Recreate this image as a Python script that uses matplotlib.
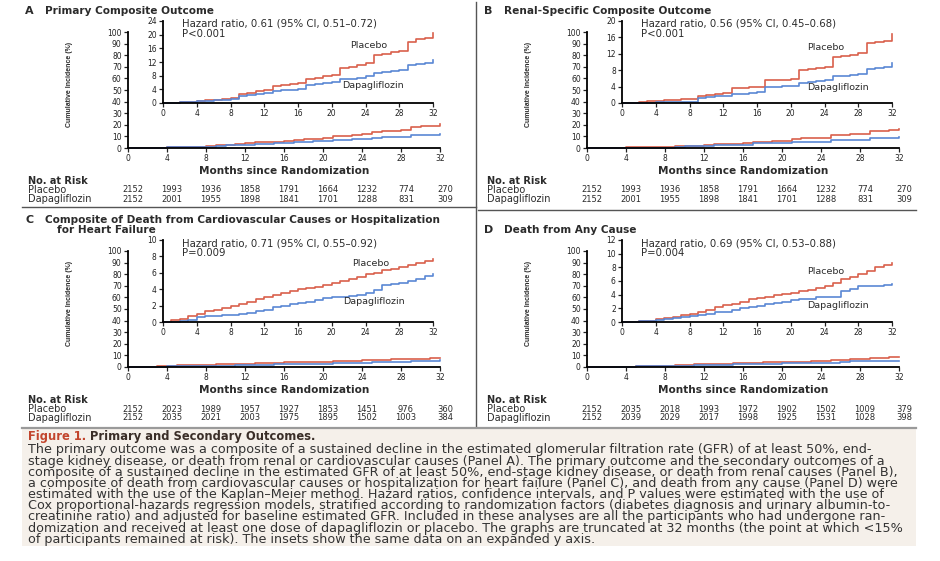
import matplotlib
matplotlib.use("Agg")
import matplotlib.pyplot as plt
from matplotlib.lines import Line2D
from matplotlib.patches import Rectangle

W, H = 940, 561

# months 0..32
months = list(range(0, 33))

a_placebo = [0, 0.1, 0.2, 0.4, 0.6, 0.8, 1.0, 1.2, 1.6, 2.5, 3.0, 3.4, 3.9, 4.9, 5.2, 5.5, 5.9,
             7.0, 7.4, 7.8, 8.3, 10.2, 10.6, 11.0, 11.8, 14.0, 14.4, 14.8, 15.2, 17.8, 18.6, 19.0, 20.5]
a_dapa = [0, 0.1, 0.2, 0.3, 0.5, 0.6, 0.8, 1.0, 1.2, 2.0, 2.3, 2.6, 2.9, 3.5, 3.7, 3.9, 4.2,
          5.2, 5.5, 5.8, 6.1, 6.9, 7.1, 7.4, 7.9, 8.8, 9.1, 9.4, 9.8, 11.0, 11.3, 11.6, 12.5]

b_placebo = [0, 0.1, 0.2, 0.4, 0.6, 0.7, 0.8, 0.9, 1.0, 1.7, 1.9, 2.1, 2.4, 3.6, 3.7, 3.8, 4.0,
             5.5, 5.6, 5.7, 5.9, 8.0, 8.3, 8.6, 8.9, 11.3, 11.5, 11.8, 12.1, 14.7, 14.9, 15.2, 16.8]
b_dapa = [0, 0.0, 0.1, 0.1, 0.2, 0.2, 0.3, 0.3, 0.3, 1.2, 1.4, 1.6, 1.8, 2.2, 2.3, 2.5, 2.6,
          3.9, 4.0, 4.1, 4.2, 5.0, 5.2, 5.3, 5.5, 6.6, 6.7, 6.8, 7.0, 8.4, 8.6, 8.8, 9.7]

c_placebo = [0, 0.2, 0.4, 0.7, 1.0, 1.3, 1.5, 1.7, 2.0, 2.2, 2.5, 2.8, 3.0, 3.3, 3.5, 3.8, 4.0,
             4.2, 4.3, 4.5, 4.7, 5.0, 5.3, 5.5, 5.8, 6.0, 6.3, 6.5, 6.7, 7.0, 7.2, 7.4, 7.7]
c_dapa = [0, 0.0, 0.1, 0.3, 0.6, 0.7, 0.7, 0.8, 0.8, 1.0, 1.1, 1.3, 1.5, 1.8, 2.0, 2.2, 2.3,
          2.5, 2.7, 2.9, 3.0, 3.1, 3.2, 3.3, 3.5, 3.9, 4.5, 4.6, 4.7, 5.0, 5.3, 5.6, 5.8]

d_placebo = [0, 0.0, 0.1, 0.2, 0.4, 0.6, 0.8, 1.0, 1.2, 1.5, 1.8, 2.2, 2.5, 2.7, 3.0, 3.3, 3.5,
             3.7, 3.9, 4.1, 4.3, 4.5, 4.7, 5.0, 5.2, 5.7, 6.3, 6.6, 7.0, 7.5, 8.0, 8.4, 8.6]
d_dapa = [0, 0.0, 0.1, 0.2, 0.3, 0.5, 0.6, 0.8, 0.9, 1.0, 1.2, 1.4, 1.5, 1.8, 2.0, 2.2, 2.4,
          2.6, 2.8, 3.0, 3.2, 3.3, 3.4, 3.6, 3.7, 3.7, 4.6, 4.9, 5.2, 5.2, 5.3, 5.4, 5.5]

risk_ticks = [0, 4, 8, 12, 16, 20, 24, 28, 32]
a_risk_placebo = [2152, 1993, 1936, 1858, 1791, 1664, 1232, 774, 270]
a_risk_dapa = [2152, 2001, 1955, 1898, 1841, 1701, 1288, 831, 309]
c_risk_placebo = [2152, 2023, 1989, 1957, 1927, 1853, 1451, 976, 360]
c_risk_dapa = [2152, 2035, 2021, 2003, 1975, 1895, 1502, 1003, 384]
d_risk_placebo = [2152, 2035, 2018, 1993, 1972, 1902, 1502, 1009, 379]
d_risk_dapa = [2152, 2039, 2029, 2017, 1998, 1925, 1531, 1028, 398]

panels = [
    dict(letter="A", title=["Primary Composite Outcome"], origin=(128, 148),
         placebo=a_placebo, dapa=a_dapa, inset_max=24, inset_step=4,
         hr="Hazard ratio, 0.61 (95% CI, 0.51\u20130.72)", p="P<0.001",
         risk=(a_risk_placebo, a_risk_dapa), plab=(222, -102), dlab=(214, -63)),
    dict(letter="B", title=["Renal-Specific Composite Outcome"], origin=(587, 148),
         placebo=b_placebo, dapa=b_dapa, inset_max=20, inset_step=4,
         hr="Hazard ratio, 0.56 (95% CI, 0.45\u20130.68)", p="P<0.001",
         risk=(a_risk_placebo, a_risk_dapa), plab=(220, -100), dlab=(220, -60)),
    dict(letter="C", title=["Composite of Death from Cardiovascular Causes or Hospitalization",
                            "for Heart Failure"], origin=(128, 367),
         placebo=c_placebo, dapa=c_dapa, inset_max=10, inset_step=2,
         hr="Hazard ratio, 0.71 (95% CI, 0.55\u20130.92)", p="P=0.009",
         risk=(c_risk_placebo, c_risk_dapa), plab=(224, -104), dlab=(215, -66)),
    dict(letter="D", title=["Death from Any Cause"], origin=(587, 367),
         placebo=d_placebo, dapa=d_dapa, inset_max=12, inset_step=2,
         hr="Hazard ratio, 0.69 (95% CI, 0.53\u20130.88)", p="P=0.004",
         risk=(d_risk_placebo, d_risk_dapa), plab=(220, -95), dlab=(220, -62)),
]

caption = [
    "The primary outcome was a composite of a sustained decline in the estimated glomerular filtration rate (GFR) of at least 50%, end-",
    "stage kidney disease, or death from renal or cardiovascular causes (Panel A). The primary outcome and the secondary outcomes of a",
    "composite of a sustained decline in the estimated GFR of at least 50%, end-stage kidney disease, or death from renal causes (Panel B),",
    "a composite of death from cardiovascular causes or hospitalization for heart failure (Panel C), and death from any cause (Panel D) were",
    "estimated with the use of the Kaplan\u2013Meier method. Hazard ratios, confidence intervals, and P values were estimated with the use of",
    "Cox proportional-hazards regression models, stratified according to randomization factors (diabetes diagnosis and urinary albumin-to-",
    "creatinine ratio) and adjusted for baseline estimated GFR. Included in these analyses are all the participants who had undergone ran-",
    "domization and received at least one dose of dapagliflozin or placebo. The graphs are truncated at 32 months (the point at which <15%",
    "of participants remained at risk). The insets show the same data on an expanded y axis.",
]

RED = "#d9604c"
BLUE = "#5a87d4"
TXT = "#2b2b2b"

plt.rcParams["font.family"] = "DejaVu Sans"

fig = plt.figure(figsize=(W / 100, H / 100), dpi=100)
fig.patch.set_facecolor("white")


def box(x0, y0, x1, y1):
    return [x0 / W, 1 - y1 / H, (x1 - x0) / W, (y1 - y0) / H]


def ftext(x, y, s, **kw):
    return fig.text(x / W, 1 - y / H, s, **kw)


def hline(x0, x1, y, **kw):
    fig.add_artist(Line2D([x0 / W, x1 / W], [1 - y / H, 1 - y / H], transform=fig.transFigure, **kw))


def vline(x, y0, y1, **kw):
    fig.add_artist(Line2D([x / W, x / W], [1 - y0 / H, 1 - y1 / H], transform=fig.transFigure, **kw))


def style(ax, fs):
    for s in ["top", "right"]:
        ax.spines[s].set_visible(False)
    for s in ["left", "bottom"]:
        ax.spines[s].set_linewidth(1.3)
    ax.tick_params(direction="out", length=3, width=0.9, labelsize=fs, pad=1.5, colors="#222222")
    ax.set_facecolor("none")


for p in panels:
    ox, oy = p["origin"]
    # main axes
    ax = fig.add_axes(box(ox, oy - 116, ox + 312, oy))
    ax.step(months, p["placebo"], where="post", color=RED, lw=1.2, clip_on=False)
    ax.step(months, p["dapa"], where="post", color=BLUE, lw=1.2, clip_on=False)
    ax.set_xlim(0, 32)
    ax.set_ylim(0, 100)
    ax.set_xticks(risk_ticks)
    ax.set_yticks(range(0, 101, 10))
    style(ax, 5.5)
    ax.set_xlabel("Months since Randomization", fontsize=7.6, fontweight="bold", labelpad=2, color=TXT)
    ax.set_ylabel("Cumulative Incidence (%)", fontsize=5, fontweight="bold",
                  family="Liberation Sans", color=TXT)
    ax.yaxis.set_label_coords(-55 / 312, 0.55)

    # inset with expanded y axis
    ins = fig.add_axes(box(ox + 35, oy - 127, ox + 305, oy - 45))
    ins.step(months, p["placebo"], where="post", color=RED, lw=1.2, clip_on=False)
    ins.step(months, p["dapa"], where="post", color=BLUE, lw=1.2, clip_on=False)
    ins.set_xlim(0, 32)
    ins.set_ylim(0, p["inset_max"])
    ins.set_xticks(risk_ticks)
    ins.set_yticks(range(0, p["inset_max"] + 1, p["inset_step"]))
    style(ins, 5.5)

    ftext(ox + 54, oy - 124, p["hr"], fontsize=7.3, color=TXT, va="center")
    ftext(ox + 54, oy - 114, p["p"], fontsize=7.3, color=TXT, va="center")
    ftext(ox + p["plab"][0], oy + p["plab"][1], "Placebo", fontsize=6.8, color=TXT, va="center")
    ftext(ox + p["dlab"][0], oy + p["dlab"][1], "Dapagliflozin", fontsize=6.8, color=TXT, va="center")

    # titles
    ty = oy - 137 if len(p["title"]) == 1 else oy - 147
    ftext(ox - 103, ty, p["letter"], fontsize=8, fontweight="bold", color=TXT, va="center")
    ftext(ox - 83, ty, p["title"][0], fontsize=7.6, fontweight="bold", color=TXT, va="center")
    if len(p["title"]) > 1:
        ftext(ox - 71, ty + 9.5, p["title"][1], fontsize=7.6, fontweight="bold", color=TXT, va="center")

    # number at risk
    ftext(ox - 100, oy + 33, "No. at Risk", fontsize=7, fontweight="bold", color=TXT, va="center")
    ftext(ox - 100, oy + 42, "Placebo", fontsize=7, color=TXT, va="center")
    ftext(ox - 100, oy + 51, "Dapagliflozin", fontsize=7, color=TXT, va="center")
    for t, n1, n2 in zip(risk_ticks, p["risk"][0], p["risk"][1]):
        xx = ox + t / 32 * 312 + 5
        ftext(xx, oy + 42, str(n1), fontsize=6, color=TXT, va="center", ha="center")
        ftext(xx, oy + 51, str(n2), fontsize=6, color=TXT, va="center", ha="center")

# separators
vline(476, 2, 426, color="#555555", lw=1.0)
hline(22, 476, 207, color="#555555", lw=1.0)
hline(478, 916, 210, color="#555555", lw=1.0)

# caption box
fig.add_artist(Rectangle((22 / W, 1 - 546 / H), (916 - 22) / W, (546 - 429) / H,
                         transform=fig.transFigure, facecolor="#f5f0ea", edgecolor="none", zorder=0))
hline(22, 916, 428, color="#9a9a9a", lw=1.6)

t1 = ftext(28, 436.5, "Figure 1.", fontsize=8.3, fontweight="bold", color="#c2452d", va="center")
fig.canvas.draw()
r = fig.canvas.get_renderer()
ext = t1.get_window_extent(r)
ftext(ext.x1 + 4, 436.5, "Primary and Secondary Outcomes.", fontsize=8.3, fontweight="bold",
      color="#3a2e28", va="center")

CAP_FS = 9.2
body = ftext(28, 443.5, "\n".join(caption), fontsize=CAP_FS, color="#333333", va="top", linespacing=1.0)
one = ftext(0, 0, caption[0], fontsize=CAP_FS)
fig.canvas.draw()
h9 = body.get_window_extent(r).height
h1 = one.get_window_extent(r).height
one.remove()
step = (h9 - h1) / (len(caption) - 1)
body.set_linespacing(10.6 / step)

fig.savefig("out.png", dpi=100)
